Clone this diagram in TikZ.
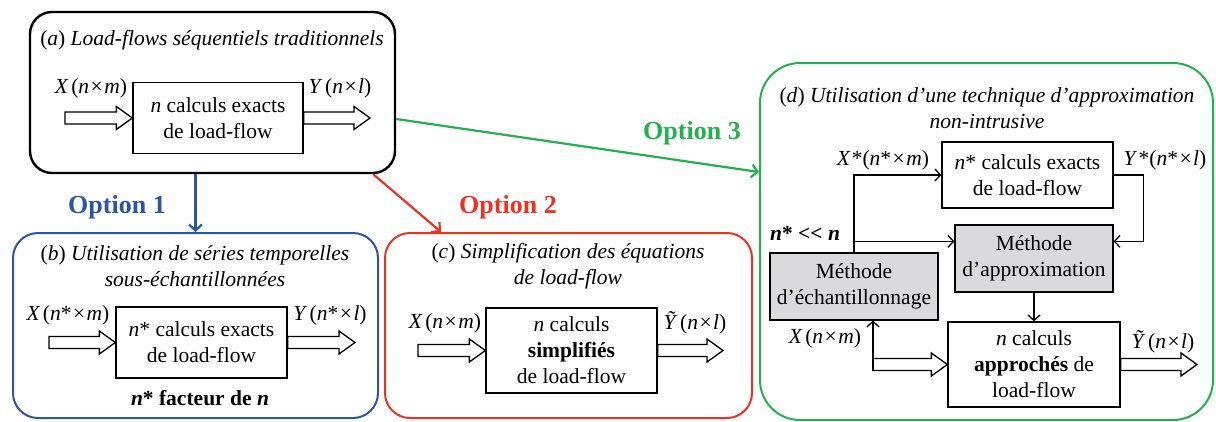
\documentclass[tikz,border=0pt]{standalone}
\usepackage{fontspec}
\setmainfont{Liberation Serif}
\usetikzlibrary{arrows.meta,calc}
\definecolor{optblue}{RGB}{46,84,164}
\definecolor{optred}{RGB}{237,50,36}
\definecolor{optgreen}{RGB}{34,177,76}
\definecolor{boxgray}{RGB}{218,218,220}
\newcommand{\harrow}[2]{\draw[hollow] let \p1=#1, \p2=#2 in (\x1,\y1+6pt) -- (\x2-16pt,\y1+6pt) -- (\x2-16pt,\y1+11.5pt) -- (\x2,\y1) -- (\x2-16pt,\y1-11.5pt) -- (\x2-16pt,\y1-6pt) -- (\x1,\y1-6pt) -- cycle;}
\newcommand{\tm}{\kern1.5pt×\kern1.5pt}
\begin{document}
\begin{tikzpicture}[x=1pt,y=-1pt,
  font=\fontsize{21.5}{26}\selectfont,
  panel/.style={draw, line width=2pt, inner sep=0pt},
  box/.style={draw, line width=1.3pt, fill=white, align=center, inner sep=0pt},
  gbox/.style={box, fill=boxgray},
  lbl/.style={inner sep=0pt, align=center},
  thinarr/.style={line width=1.3pt, -{Straight Barb[length=5.5pt,width=12pt]}},
  optarr/.style={line width=2.2pt, -{Straight Barb[length=6pt,width=13pt]}},
  optlbl/.style={inner sep=0pt, font=\fontsize{26}{30}\selectfont\bfseries},
  hollow/.style={draw, line width=1.3pt, fill=white, line join=miter}]
\useasboundingbox (0,0) rectangle (1216,421);

% panels
\node[panel, line width=2.4pt, rounded corners=22pt, minimum width=365pt, minimum height=161pt] (pa) at (212.5,92.5) {};
\node[panel, draw=optblue, rounded corners=25pt, minimum width=365pt, minimum height=185pt] (pb) at (195.5,325.5) {};
\node[panel, draw=optred, rounded corners=25pt, minimum width=367pt, minimum height=185pt] (pc) at (568.5,325.5) {};
\node[panel, draw=optgreen, rounded corners=40pt, minimum width=453pt, minimum height=357pt] (pd) at (986.5,241.5) {};

% option connectors
\draw[optarr, optblue] (pa.south -| pb.north) -- (pb.north);
\draw[optarr, optred] ($(pa.south east)+(-23,0)$) -- ($(pc.north west)+(57,0)$);
\draw[optarr, optgreen] ($(pa.east)+(0,26.5)$) -- ($(pd.west)+(0,-69.5)$);
\node[optlbl, text=optblue] (o1) at (117,207) {Option 1};
\node[optlbl, text=optred] (o2) at (508,207) {Option 2};
\node[optlbl, text=optgreen] (o3) at (692,133) {Option 3};

% panel (a)
\node[lbl] (ta) at (212,40) {(\textit{a}) \textit{Load-flows séquentiels traditionnels}};
\node[box, minimum width=170pt, minimum height=71pt] (abox) at (218,118) {\textit{n} calculs exacts\\de load-flow};
\node[lbl] (ax) at (91,88) {\textit{X}\kern2.5pt(\textit{n}\tm\textit{m})};
\node[lbl] (ay) at (340,88) {\textit{Y}\kern2.5pt(\textit{n}\tm\textit{l})};
\harrow{(65,118)}{(abox.west)}
\harrow{(abox.east)}{(370,118)}

% panel (b)
\node[lbl] (tb) at (195,266) {(\textit{b}) \textit{Utilisation de séries temporelles}\\\textit{sous-échantillonnées}};
\node[box, minimum width=171pt, minimum height=71pt] (bbox) at (201.5,342.5) {\textit{n}* calculs exacts\\de load-flow};
\node[lbl] (bx) at (68,315) {\textit{X}\kern2.5pt(\textit{n}*\tm\textit{m})};
\node[lbl] (by) at (330,315) {\textit{Y}\kern2.5pt(\textit{n}*\tm\textit{l})};
\node[lbl] (bf) at (200,398) {\textbf{\textit{n}* facteur de \textit{n}}};
\harrow{(49,342.5)}{(bbox.west)}
\harrow{(bbox.east)}{(355,342.5)}

% panel (c)
\node[lbl] (tc) at (568,266) {(\textit{c}) \textit{Simplification des équations}\\\textit{de load-flow}};
\node[box, minimum width=171pt, minimum height=85pt] (cbox) at (571.5,350.5) {\textit{n} calculs\\\textbf{simplifiés}\\de load-flow};
\node[lbl] (cx) at (445,323) {\textit{X}\kern2.5pt(\textit{n}\tm\textit{m})};
\node[lbl] (cy) at (695,323) {\textit{Ỹ}\kern2.5pt(\textit{n}\tm\textit{l})};
\harrow{(418,350.5)}{(cbox.west)}
\harrow{(cbox.east)}{(723,350.5)}

% panel (d)
\node[lbl] (td) at (987,108.5) {(\textit{d}) \textit{Utilisation d’une technique d’approximation}\\\textit{non-intrusive}};
\node[box, minimum width=171pt, minimum height=66pt] (dtop) at (1027.5,175) {\textit{n}* calculs exacts\\de load-flow};
\node[gbox, minimum width=158pt, minimum height=67pt] (dapp) at (1034,258.5) {Méthode\\d’approximation};
\node[gbox, minimum width=168pt, minimum height=67pt] (dsamp) at (854,286.5) {Méthode\\d’échantillonnage};
\node[box, minimum width=172pt, minimum height=85pt] (dbot) at (1034,364.5) {\textit{n} calculs\\\textbf{approchés} de\\load-flow};
\node[lbl] (dxs) at (883,160) {\textit{X}\kern1pt*(\textit{n}*\tm\textit{m})};
\node[lbl] (dys) at (1165,160) {\textit{Y}\kern1pt*(\textit{n}*\tm\textit{l})};
\node[lbl] (dn) at (805,233) {\textbf{\textit{n}* <{}< \textit{n}}};
\node[lbl] (dx) at (825,338) {\textit{X}\kern2.5pt(\textit{n}\tm\textit{m})};
\node[lbl] (dy) at (1163,342) {\textit{Ỹ}\kern2.5pt(\textit{n}\tm\textit{l})};

\coordinate (djoin) at ($(dsamp.north)+(0,-11)$);
\draw[thinarr] (dsamp.north) |- (dtop.west);
\draw[thinarr] (djoin) -- (djoin -| dapp.west);
\coordinate (dright) at ($(dtop.east)+(30,0)$);
\draw[thinarr] (dtop.east) -- (dright) |- (djoin -| dapp.east);
\draw[thinarr] (dapp.south) -- (dbot.north);
\harrow{(873,364.5)}{(dbot.west)}
\draw[thinarr] (873,370.5) -- (873,320.5);
\harrow{(dbot.east)}{(1197,364.5)}
\end{tikzpicture}
\end{document}
